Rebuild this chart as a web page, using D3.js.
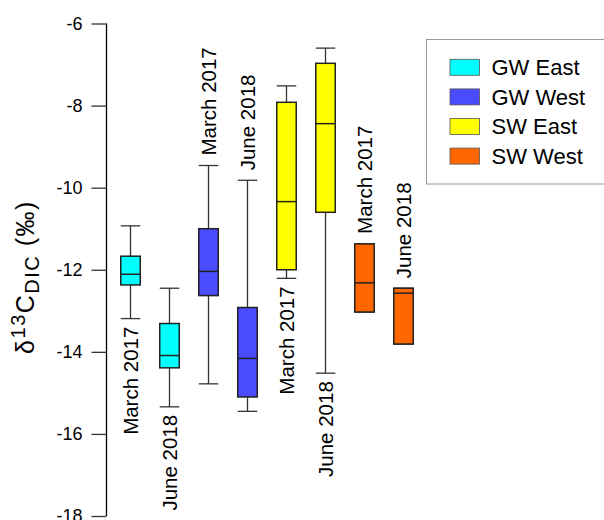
<!DOCTYPE html>
<html>
<head>
<meta charset="utf-8">
<script src="https://cdn.jsdelivr.net/npm/d3@7/dist/d3.min.js"></script>
<style>
  html, body { margin: 0; padding: 0; background: #fff; }
  svg { display: block; font-family: "Liberation Sans", Arial, sans-serif; }
</style>
</head>
<body>
<svg id="chart" width="604" height="520"></svg>
<script>
// ---- data ----
const groups   = ["GW East", "GW East", "GW West", "GW West", "SW East", "SW East", "SW West", "SW West"];
const periods  = ["March 2017", "June 2018", "March 2017", "June 2018", "March 2017", "June 2018", "March 2017", "June 2018"];
const whiskerHigh = [-10.93, -12.45, -9.46, -9.82, -7.52, -6.60, -11.37, -12.45];
const q3Values    = [-11.67, -13.31, -11.00, -12.92, -7.92, -6.97, -11.37, -12.45];
const medians     = [-12.11, -14.09, -12.04, -14.16, -10.34, -8.44, -12.32, -12.57];
const q1Values    = [-12.37, -14.39, -12.63, -15.10, -12.00, -10.60, -13.03, -13.81];
const whiskerLow  = [-13.19, -15.34, -14.78, -15.45, -12.21, -14.52, -13.03, -13.81];
const labelSide   = ["below", "below", "above", "above", "below", "below", "above", "above"];
const legendNames = ["GW East", "GW West", "SW East", "SW West"];
const legendColors = ["#00FFFF", "#4B4BFF", "#FFFF00", "#FF6600"];
const yTicks = [-18, -16, -14, -12, -10, -8, -6];

// ---- scales ----
const svg = d3.select("#chart");
const y = d3.scaleLinear().domain([-18, -6]).range([516, 23.5]);
const x = d3.scalePoint().domain(d3.range(groups.length)).range([130.5, 403.5]);
const color = d3.scaleOrdinal().domain(legendNames).range(legendColors);
const boxW = 19.5;

// ---- axis ----
const axisX = 106.5;
const yAxis = d3.axisLeft(y).tickValues(yTicks).tickSize(15).tickPadding(9)
  .tickFormat(d => d3.format("d")(d).replace("−", "-"));
const gAxis = svg.append("g").attr("transform", `translate(${axisX},0)`).call(yAxis);
gAxis.select(".domain").attr("stroke", "#000").attr("stroke-width", 1.3)
  .attr("d", `M0,${y(-18)}V${y(-6)}`);
gAxis.selectAll(".tick line").attr("stroke", "#333").attr("stroke-width", 1.3);
gAxis.selectAll(".tick text").attr("font-size", 18).attr("fill", "#000")
  .attr("font-family", "Liberation Sans, Arial, sans-serif");

// axis title
const title = svg.append("text")
  .attr("transform", `translate(34,277) rotate(-90)`)
  .attr("text-anchor", "middle")
  .attr("font-size", 25)
  .attr("letter-spacing", 1.5)
  .attr("fill", "#000");
title.append("tspan").text("δ");
title.append("tspan").attr("font-size", 20).attr("dy", -9).text("13");
title.append("tspan").attr("dy", 9).text("C");
title.append("tspan").attr("font-size", 20).attr("dy", 5).text("DIC");
title.append("tspan").attr("dy", -5).text(" (‰)");

// ---- boxes ----
const idx = d3.range(groups.length);
const g = svg.append("g");
idx.forEach(i => {
  const cx = x(i);
  const bg = g.append("g");
  // whiskers
  bg.append("line").attr("x1", cx).attr("x2", cx).attr("y1", y(whiskerHigh[i])).attr("y2", y(q3Values[i]))
    .attr("stroke", "#333").attr("stroke-width", 1.3);
  bg.append("line").attr("x1", cx).attr("x2", cx).attr("y1", y(q1Values[i])).attr("y2", y(whiskerLow[i]))
    .attr("stroke", "#333").attr("stroke-width", 1.3);
  [whiskerHigh[i], whiskerLow[i]].forEach(v => {
    bg.append("line").attr("x1", cx - boxW / 2).attr("x2", cx + boxW / 2).attr("y1", y(v)).attr("y2", y(v))
      .attr("stroke", "#333").attr("stroke-width", 1.3);
  });
  // box
  bg.append("rect").attr("x", cx - boxW / 2).attr("y", y(q3Values[i]))
    .attr("width", boxW).attr("height", y(q1Values[i]) - y(q3Values[i]))
    .attr("fill", color(groups[i])).attr("stroke", "#222").attr("stroke-width", 1.5);
  bg.append("line").attr("x1", cx - boxW / 2).attr("x2", cx + boxW / 2)
    .attr("y1", y(medians[i])).attr("y2", y(medians[i]))
    .attr("stroke", "#222").attr("stroke-width", 1.5);
  // label
  const below = labelSide[i] === "below";
  const ly = below ? y(whiskerLow[i]) + 8 : y(whiskerHigh[i]) - 10;
  bg.append("text")
    .attr("transform", `translate(${cx},${ly}) rotate(-90)`)
    .attr("text-anchor", below ? "end" : "start")
    .attr("dy", "0.36em")
    .attr("font-size", 20.5)
    .attr("fill", "#000")
    .text(periods[i]);
});

// ---- legend ----
const lg = svg.append("g");
lg.append("rect").attr("x", 426.5).attr("y", 39.5).attr("width", 190).attr("height", 144.5)
  .attr("fill", "#fff").attr("stroke", "#999").attr("stroke-width", 1);
legendNames.forEach((name, k) => {
  const cy = 67.3 + k * 29.6;
  lg.append("rect").attr("x", 450).attr("y", cy - 8).attr("width", 29.5).attr("height", 16)
    .attr("fill", legendColors[k]).attr("stroke", "#555").attr("stroke-width", 0.8);
  lg.append("text").attr("x", 491.5).attr("y", cy).attr("dy", "0.36em")
    .attr("font-size", 22).attr("fill", "#000").text(name);
});
</script>
</body>
</html>
